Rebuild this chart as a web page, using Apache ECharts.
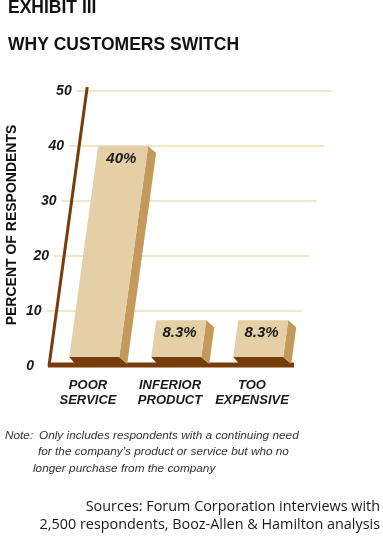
<!DOCTYPE html>
<html><head><meta charset="utf-8">
<script src="https://cdn.jsdelivr.net/npm/echarts@6/dist/echarts.min.js"></script>
<style>html,body{margin:0;padding:0;background:#fff}#c{width:383px;height:536px}</style>
</head><body><div id="c"></div>
<script>
const categories = ['POOR\nSERVICE', 'INFERIOR\nPRODUCT', 'TOO\nEXPENSIVE'];
const values = [40, 8.3, 8.3];
const valueLabels = ['40%', '8.3%', '8.3%'];
const yTicks = [0, 10, 20, 30, 40, 50];
const titleLines = ['EXHIBIT III', 'WHY CUSTOMERS SWITCH'];
const yTitle = 'PERCENT OF RESPONDENTS';
const noteLines = ['Note:', 'Only includes respondents with a continuing need', 'for the company\u2019s product or service but who no', 'longer purchase from the company'];
const sourceLines = ['Sources: Forum Corporation interviews with', '2,500 respondents, Booz-Allen & Hamilton analysis'];

const K = 0.137;
const C_FRONT = '#e4cfa7', C_SIDE = '#c39a5b', C_DARK = '#783c08', C_GRID = '#eddcbd';
function sx(x, y, y0) { return x + K * (y0 - y); }

const chart = echarts.init(document.getElementById('c'), null, {renderer: 'canvas'});

const backdrop = {
  type: 'custom', z: 1, silent: true, clip: false,
  data: [[0, 0]],
  renderItem: function (params, api) {
    const cs = params.coordSys;
    const y0 = api.coord([0, 0])[1];
    const ch = [];
    yTicks.forEach(function (t) {
      const y = api.coord([0, t])[1];
      if (t > 0) ch.push({type: 'line', shape: {x1: sx(cs.x - 13, y, y0), y1: y, x2: sx(cs.x + cs.width - 4, y, y0), y2: y},
        style: {stroke: C_GRID, lineWidth: 1.5}});
      ch.push({type: 'text', style: {text: String(t), x: sx(cs.x - 18, y, y0), y: y, align: 'right', verticalAlign: 'middle',
        font: 'italic bold 14px "Liberation Sans"', fill: '#1a1a1a'}});
    });
    const yTop = api.coord([0, yTicks[yTicks.length - 1]])[1] - 4;
    ch.push({type: 'line', shape: {x1: cs.x - 3, y1: y0, x2: sx(cs.x - 3, yTop, y0), y2: yTop},
      style: {stroke: C_DARK, lineWidth: 3}});
    ch.push({type: 'line', shape: {x1: cs.x - 4, y1: y0 - 1, x2: cs.x + cs.width - 4, y2: y0 - 1},
      style: {stroke: C_DARK, lineWidth: 5}});
    return {type: 'group', children: ch};
  }
};

const bars = {
  type: 'custom', z: 2, clip: false,
  data: values.map(function (v, i) { return [i, v]; }),
  encode: {x: 0, y: 1},
  renderItem: function (params, api) {
    const i = api.value(0);
    const c = api.coord([i, api.value(1)]);
    const y0 = api.coord([i, 0])[1];
    const cx = c[0], yt = c[1];
    const w = 50, yb = y0 - 9, dx = 8, dy = 7;
    const L = cx - w / 2, R = cx + w / 2;
    const TL = [sx(L, yt, y0), yt], TR = [sx(R, yt, y0), yt];
    const BR = [sx(R, yb, y0), yb], BL = [sx(L, yb, y0), yb];
    const ly = yt + 13;
    return {type: 'group', children: [
      {type: 'polygon', shape: {points: [BL, BR, [BR[0] + dx, yb + dy], [BL[0] + 6, yb + dy]]}, style: {fill: C_DARK}},
      {type: 'polygon', shape: {points: [TR, [TR[0] + dx, yt + dy], [BR[0] + dx, yb + dy], BR]}, style: {fill: C_SIDE}},
      {type: 'polygon', shape: {points: [TL, TR, BR, BL]}, style: {fill: C_FRONT}},
      {type: 'text', style: {text: valueLabels[params.dataIndex], x: sx(cx, ly, y0), y: ly, align: 'center', verticalAlign: 'middle',
        font: 'italic bold 15px "Liberation Sans"', fill: '#1a1a1a'}}
    ]};
  }
};

const txt = function (text, x, y, font, align, fill) {
  return {type: 'text', x: x, y: y, silent: true,
    style: {text: text, font: font, align: align || 'left', verticalAlign: 'middle', fill: fill || '#111'}};
};
const NOTE_FONT = 'italic 11.8px "Liberation Sans"';
const SRC_FONT = '14.4px "Open Sans"';

chart.setOption({
  animation: false,
  grid: {left: 52, right: 85, top: 91, bottom: 170, containLabel: false, outerBoundsMode: 'none'},
  xAxis: {type: 'category', data: categories,
    axisLine: {show: false}, axisTick: {show: false}, splitLine: {show: false},
    axisLabel: {interval: 0, margin: 12, lineHeight: 15, padding: [0, 10, 0, 0], color: '#1a1a1a',
      fontFamily: 'Liberation Sans', fontStyle: 'italic', fontWeight: 'bold', fontSize: 13}},
  yAxis: {type: 'value', min: 0, max: 50, interval: 10,
    axisLine: {show: false}, axisTick: {show: false}, axisLabel: {show: false}, splitLine: {show: false}},
  graphic: [
    txt(titleLines[0], 8, 8, 'bold 17.5px "Liberation Sans"'),
    txt(titleLines[1], 8, 45, 'bold 17.5px "Liberation Sans"'),
    {type: 'text', x: 12, y: 225, rotation: Math.PI / 2, silent: true,
      style: {text: yTitle, font: 'bold 14px "Liberation Sans"', align: 'center', verticalAlign: 'middle', fill: '#111'}},
    txt(noteLines[0], 5, 436, NOTE_FONT, 'left', '#333'),
    txt(noteLines[1], 39, 436, NOTE_FONT, 'left', '#333'),
    txt(noteLines[2], 38, 452, NOTE_FONT, 'left', '#333'),
    txt(noteLines[3], 33, 469, NOTE_FONT, 'left', '#333'),
    txt(sourceLines[0], 380, 507, SRC_FONT, 'right', '#1a1a1a'),
    txt(sourceLines[1], 380, 525, SRC_FONT, 'right', '#1a1a1a')
  ],
  series: [backdrop, bars]
});
</script></body></html>
